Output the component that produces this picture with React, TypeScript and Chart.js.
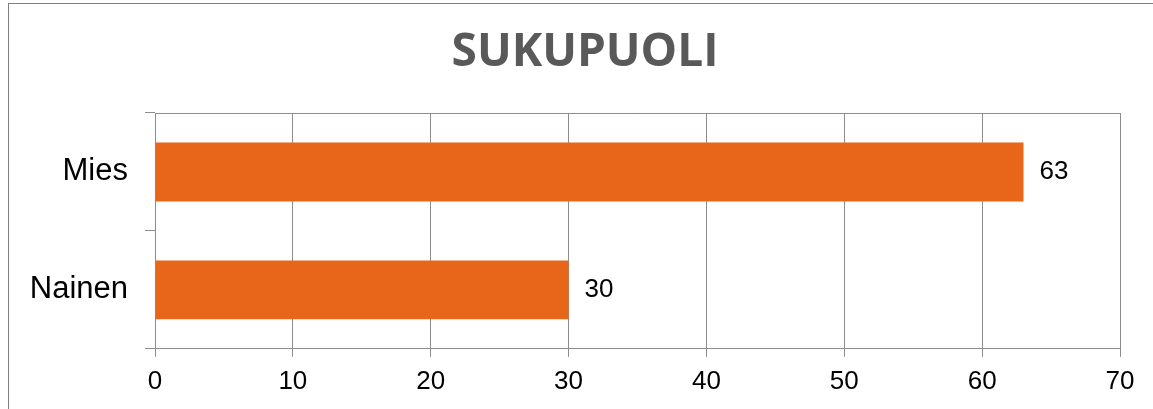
import React, { useEffect, useRef } from "react";
import { Chart, registerables } from "chart.js";

Chart.register(...registerables);

const titleText = "SUKUPUOLI";
const categories = ["Mies", "Nainen"];
const values = [63, 30];
const xMin = 0;
const xMax = 70;
const xStep = 10;

const GRID = "#8c8c8c";
const BAR = "#E8661A";

const valueLabels = {
  id: "valueLabels",
  afterDatasetsDraw(chart: any) {
    const ctx = chart.ctx;
    const meta = chart.getDatasetMeta(0);
    ctx.save();
    ctx.font = "26px 'Liberation Sans', Arial, sans-serif";
    ctx.fillStyle = "#000";
    ctx.textAlign = "left";
    ctx.textBaseline = "middle";
    meta.data.forEach((el: any, i: number) => {
      ctx.fillText(String(chart.data.datasets[0].data[i]), el.x + 16, el.y);
    });
    ctx.restore();
  },
};

const topBorder = {
  id: "topBorder",
  afterDraw(chart: any) {
    const { ctx, chartArea } = chart;
    ctx.save();
    ctx.strokeStyle = GRID;
    ctx.lineWidth = 1;
    ctx.beginPath();
    const y = Math.round(chartArea.top) + 0.5;
    ctx.moveTo(chartArea.left, y);
    ctx.lineTo(chartArea.right, y);
    ctx.stroke();
    ctx.restore();
  },
};

export default function App() {
  const ref = useRef<HTMLCanvasElement | null>(null);
  useEffect(() => {
    if (!ref.current) return;
    const chart = new Chart(ref.current, {
      type: "bar",
      data: {
        labels: categories,
        datasets: [
          {
            data: values,
            backgroundColor: BAR,
            borderWidth: 0,
            barPercentage: 0.5,
            categoryPercentage: 1,
          },
        ],
      },
      plugins: [valueLabels, topBorder],
      options: {
        indexAxis: "y",
        animation: false,
        responsive: false,
        maintainAspectRatio: false,
        layout: { padding: { left: 0, right: 0, top: 0, bottom: 3 } },
        plugins: {
          legend: { display: false },
          tooltip: { enabled: false },
          title: {
            display: true,
            text: titleText,
            color: "#595959",
            font: { family: "'Open Sans', sans-serif", size: 46, weight: "bold", lineHeight: 1.2 },
            padding: { top: 25, bottom: 32.8 },
          },
        },
        scales: {
          x: {
            min: xMin,
            max: xMax,
            ticks: {
              stepSize: xStep,
              color: "#000",
              padding: 9,
              font: { family: "'Liberation Sans', Arial, sans-serif", size: 26 },
            },
            grid: { color: GRID, lineWidth: 1, tickLength: 8, drawTicks: true },
            border: { color: GRID, width: 1 },
            afterFit: (scale: any) => {
              scale.paddingRight = 50;
              scale.paddingLeft = 0;
            },
          },
          y: {
            offset: true,
            ticks: {
              color: "#000",
              padding: 17,
              font: { family: "'Liberation Sans', Arial, sans-serif", size: 31 },
            },
            grid: { offset: true, drawOnChartArea: false, color: GRID, tickLength: 10 },
            border: { color: GRID, width: 1 },
            afterFit: (scale: any) => {
              scale.width = 155;
            },
          },
        },
      },
    });
    return () => chart.destroy();
  }, []);

  return (
    <div
      style={{
        position: "fixed",
        left: 0,
        top: 0,
        width: 1153,
        height: 409,
        overflow: "hidden",
        background: "#fff",
      }}
    >
      <div
        style={{
          position: "absolute",
          left: 8,
          top: 3,
          width: 1170,
          height: 430,
          border: "1px solid #7f7f7f",
          boxSizing: "border-box",
        }}
      />
      <canvas
        ref={ref}
        width={1170}
        height={409}
        style={{ position: "absolute", left: 0, top: 0, width: 1170, height: 409 }}
      />
    </div>
  );
}
